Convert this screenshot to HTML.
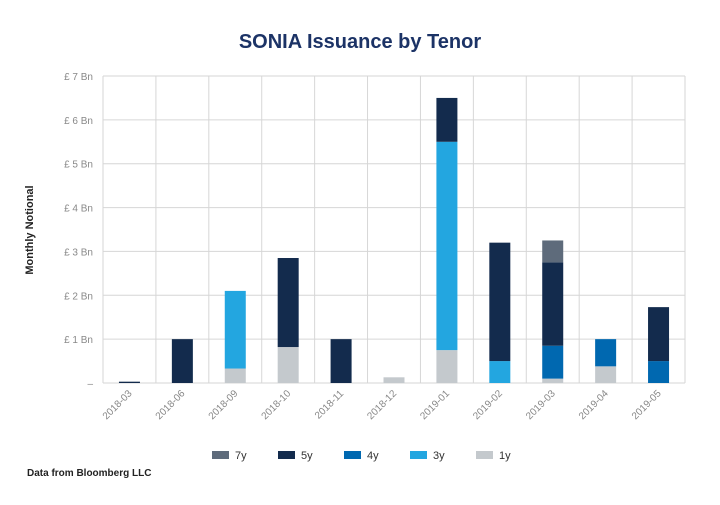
<!DOCTYPE html>
<html><head><meta charset="utf-8"><style>
body{margin:0;background:#fff;width:720px;height:500px;overflow:hidden;font-family:"Liberation Sans",sans-serif}
</style></head><body>
<svg id="c" width="720" height="500" xmlns="http://www.w3.org/2000/svg">
<text x="360" y="48" text-anchor="middle" font-size="20" font-weight="bold" fill="#1c3366">SONIA Issuance by Tenor</text>
<text transform="translate(33,230) rotate(-90)" text-anchor="middle" font-size="11" font-weight="bold" fill="#222">Monthly Notional</text>
<text x="27" y="476" font-size="10" font-weight="bold" fill="#222">Data from Bloomberg LLC</text>
<g id="grid"></g><g id="bars"></g><g id="axes"></g><g id="legend"></g>
</svg>
<script>
const categories=["2018-03","2018-06","2018-09","2018-10","2018-11","2018-12","2019-01","2019-02","2019-03","2019-04","2019-05"];
const s1y=[0,0,0.33,0.82,0,0.13,0.75,0,0.1,0.38,0];
const s3y=[0,0,1.77,0,0,0,4.75,0.5,0,0,0];
const s4y=[0,0,0,0,0,0,0,0,0.75,0.62,0.5];
const s5y=[0.03,1.0,0,2.03,1.0,0,1.0,2.7,1.9,0,1.23];
const s7y=[0,0,0,0,0,0,0,0,0.5,0,0];
const yTicks=[0,1,2,3,4,5,6,7];
const seriesNames=["1y","3y","4y","5y","7y"];
const legendOrder=["7y","5y","4y","3y","1y"];
const colors={"7y":"#5e6b7b","5y":"#132b4d","4y":"#0068b0","3y":"#23a6e0","1y":"#c4c9cd"};
const series={"1y":s1y,"3y":s3y,"4y":s4y,"5y":s5y,"7y":s7y};
const L=103,R=685,T=76,B=383,ymax=7;
const NS="http://www.w3.org/2000/svg";
const bw=(R-L)/categories.length;
const y=v=>B-(v/ymax)*(B-T);
const x=i=>L+bw*i+bw/2;
function mk(t,a,p){const e=document.createElementNS(NS,t);for(const k in a)e.setAttribute(k,a[k]);p.appendChild(e);return e;}
const grid=document.getElementById('grid'),bars=document.getElementById('bars'),axes=document.getElementById('axes'),leg=document.getElementById('legend');
yTicks.forEach(v=>{
 const l=mk('line',{x1:L,x2:R,y1:y(v),y2:y(v),stroke:'#d6d6d6','stroke-width':1},grid);
 
 
 const t=mk('text',{x:93,y:y(v)+4,'text-anchor':'end','font-size':10,fill:'#888'},axes);
 t.textContent=v===0?'–':'£ '+v+' Bn';
 
 
});
for(let i=0;i<=categories.length;i++){
 const l=mk('line',{x1:L+bw*i,x2:L+bw*i,y1:T,y2:B,stroke:'#d6d6d6','stroke-width':1},grid);
 
 
}
categories.forEach((c,i)=>{
 let acc=0;
 seriesNames.forEach(s=>{
  const v=series[s][i]; if(!v)return;
  const r=mk('rect',{x:x(i)-10.5,y:y(acc+v),width:21,height:y(acc)-y(acc+v),fill:colors[s]},bars);
  
  
  acc+=v;
 });
 const t=mk('text',{transform:`translate(${x(i)+3},${B+11}) rotate(-45)`,'text-anchor':'end','font-size':10,fill:'#888'},axes);
 t.textContent=c;
 
 
});
legendOrder.forEach((s,i)=>{
 const lx=212+i*66;
 const g=mk('g',{},leg);
 
 
 mk('rect',{x:lx,y:451,width:17,height:8,fill:colors[s]},g);
 const t=mk('text',{x:lx+23,y:459,'font-size':11,fill:'#333'},g);
 t.textContent=s;
});
</script>
</body></html>
